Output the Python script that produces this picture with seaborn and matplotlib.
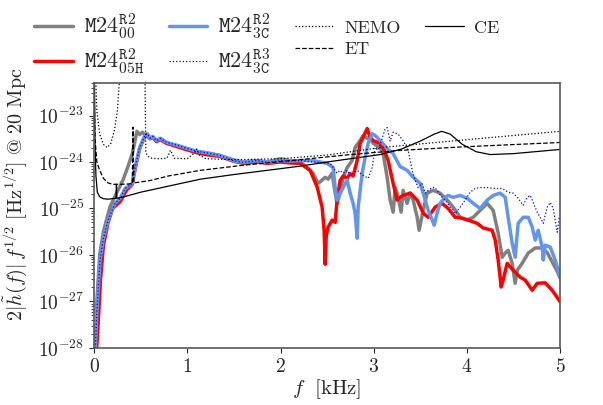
import numpy as np
import seaborn as sns
import matplotlib.pyplot as plt

# frequencies in kHz, amplitudes as log10 of 2|h(f)| f^1/2 at 20 Mpc
f_00 = [0.0, 0.01, 0.03, 0.06, 0.1, 0.14, 0.17, 0.24, 0.31, 0.36, 0.41, 0.44, 0.46, 0.49, 0.52, 0.55,
        0.6, 0.63, 0.67, 0.71, 0.78, 0.89, 1.0, 1.1, 1.2, 1.35, 1.49, 1.6, 1.75, 1.86, 1.95, 2.0, 2.1,
        2.21, 2.285, 2.35, 2.403, 2.446, 2.479, 2.511, 2.554, 2.586, 2.607, 2.639, 2.672, 2.715, 2.768,
        2.8, 2.854, 2.886, 2.929, 2.961, 2.994, 3.069, 3.101, 3.144, 3.176, 3.208, 3.23, 3.262, 3.294,
        3.315, 3.358, 3.391, 3.423, 3.466, 3.487, 3.53, 3.573, 3.637, 3.712, 3.788, 3.852, 3.927, 4.002,
        4.067, 4.142, 4.217, 4.281, 4.335, 4.378, 4.41, 4.442, 4.485, 4.517, 4.539, 4.592, 4.657, 4.732,
        4.807, 4.861, 4.914, 4.968, 5.0]
h_00 = [-29.0, -28.0, -27.0, -26.0, -25.5, -25.2, -24.97, -24.67, -24.39, -24.12, -23.82, -23.54, -23.34,
        -23.41, -23.36, -23.43, -23.49, -23.46, -23.55, -23.5, -23.6, -23.65, -23.72, -23.77, -23.8, -23.86,
        -23.95, -24.0, -23.97, -24.0, -23.95, -23.93, -23.97, -24.0, -24.12, -24.25, -24.46, -24.39, -24.33,
        -24.37, -24.24, -24.67, -24.89, -24.67, -24.33, -24.12, -23.97, -23.69, -23.54, -23.43, -23.49,
        -23.47, -23.6, -23.69, -23.82, -24.33, -24.82, -25.08, -24.55, -24.76, -25.08, -24.61, -24.89,
        -24.67, -24.82, -25.19, -25.47, -25.04, -24.67, -24.61, -24.67, -24.82, -24.97, -25.19, -25.25,
        -25.19, -25.04, -24.89, -25.04, -25.53, -26.05, -25.96, -25.9, -26.18, -26.61, -26.33, -26.18,
        -25.96, -25.85, -25.85, -25.95, -26.15, -26.35, -26.5]

f_05h = [0.0, 0.02, 0.04, 0.07, 0.1, 0.15, 0.2, 0.28, 0.35, 0.41, 0.44, 0.49, 0.55, 0.57, 0.6, 0.63, 0.67,
         0.71, 0.78, 0.89, 1.0, 1.1, 1.2, 1.35, 1.49, 1.6, 1.75, 1.86, 2.0, 2.1, 2.21, 2.318, 2.393, 2.446,
         2.468, 2.479, 2.49, 2.511, 2.554, 2.586, 2.607, 2.639, 2.672, 2.715, 2.747, 2.779, 2.822, 2.854,
         2.886, 2.929, 2.961, 2.994, 3.069, 3.101, 3.155, 3.208, 3.251, 3.283, 3.315, 3.391, 3.466, 3.53,
         3.584, 3.659, 3.734, 3.798, 3.873, 3.948, 4.013, 4.109, 4.174, 4.27, 4.303, 4.335, 4.367, 4.388,
         4.431, 4.496, 4.571, 4.624, 4.7, 4.753, 4.839, 4.914, 5.0]
h_05h = [-29.0, -28.3, -27.6, -26.5, -25.8, -25.3, -25.0, -24.85, -24.6, -24.48, -24.15, -23.7, -23.42,
         -23.4, -23.5, -23.47, -23.56, -23.52, -23.6, -23.67, -23.74, -23.8, -23.84, -23.88, -23.98, -24.03,
         -24.0, -24.03, -24.0, -24.02, -24.03, -24.18, -24.54, -24.97, -25.47, -26.2, -25.6, -25.4, -25.25,
         -25.3, -24.82, -24.4, -24.3, -24.35, -24.25, -24.3, -23.97, -23.6, -23.47, -23.28, -23.47, -23.54,
         -23.6, -23.69, -23.97, -24.46, -24.82, -24.76, -24.72, -24.67, -24.82, -25.1, -25.19, -24.97,
         -24.89, -25.0, -25.19, -25.21, -25.25, -25.32, -25.42, -25.47, -25.68, -26.11, -26.69, -26.54,
         -26.18, -26.33, -26.48, -26.54, -26.76, -26.61, -26.6, -26.76, -27.01]

f_3c = [0.0, 0.01, 0.03, 0.064, 0.097, 0.15, 0.225, 0.28, 0.333, 0.41, 0.44, 0.49, 0.55, 0.57, 0.6, 0.63,
        0.67, 0.71, 0.78, 0.89, 1.0, 1.1, 1.2, 1.35, 1.49, 1.6, 1.75, 1.86, 2.0, 2.1, 2.21, 2.35, 2.5,
        2.564, 2.586, 2.607, 2.639, 2.672, 2.715, 2.747, 2.779, 2.8, 2.822, 2.833, 2.876, 2.908, 2.94,
        2.983, 3.015, 3.069, 3.144, 3.208, 3.283, 3.358, 3.423, 3.498, 3.552, 3.584, 3.627, 3.648, 3.68,
        3.712, 3.766, 3.798, 3.852, 3.927, 4.002, 4.067, 4.142, 4.217, 4.281, 4.356, 4.41, 4.442, 4.485,
        4.517, 4.549, 4.603, 4.657, 4.7, 4.732, 4.764, 4.807, 4.818, 4.839, 4.893, 4.946, 5.0]
h_3c = [-29.0, -28.2, -27.2, -26.11, -25.68, -25.25, -24.89, -24.78, -24.57, -24.46, -24.12, -23.69, -23.41,
        -23.39, -23.49, -23.45, -23.54, -23.49, -23.58, -23.64, -23.71, -23.77, -23.8, -23.86, -23.97,
        -24.01, -23.97, -24.01, -23.97, -23.98, -23.97, -23.97, -24.03, -24.12, -24.55, -24.82, -24.67,
        -24.55, -24.39, -24.67, -24.89, -25.1, -25.64, -24.97, -24.24, -23.9, -23.6, -23.39, -23.43,
        -23.54, -23.71, -23.82, -24.1, -24.18, -24.33, -24.46, -24.82, -25.04, -25.25, -25.36, -25.1,
        -24.89, -24.76, -24.72, -24.76, -24.72, -24.78, -24.89, -25.0, -24.82, -24.72, -24.67, -24.76,
        -25.19, -25.75, -26.05, -25.32, -25.19, -25.19, -25.4, -25.68, -25.47, -25.83, -26.11, -25.79,
        -25.83, -26.11, -26.45]

f_3c_r3 = [0.0, 0.01, 0.03, 0.064, 0.097, 0.15, 0.225, 0.28, 0.333, 0.41, 0.44, 0.49, 0.55, 0.57, 0.6,
           0.63, 0.67, 0.71, 0.78, 0.89, 1.0, 1.1, 1.2, 1.35, 1.49, 1.6, 1.75, 1.86, 2.0, 2.1, 2.21, 2.35,
           2.532, 2.607, 2.639, 2.672, 2.715, 2.747, 2.822, 2.886, 2.94, 2.983, 3.015, 3.047, 3.09, 3.12,
           3.144, 3.176, 3.208, 3.262, 3.315, 3.369, 3.412, 3.444, 3.476, 3.519, 3.552, 3.584, 3.627,
           3.659, 3.691, 3.734, 3.766, 3.82, 3.873, 3.927, 3.981, 4.034, 4.088, 4.142, 4.217, 4.303,
           4.378, 4.442, 4.496, 4.549, 4.603, 4.646, 4.678, 4.71, 4.753, 4.785, 4.818, 4.861, 4.893,
           4.925, 4.968, 4.989, 5.0]
h_3c_r3 = [-29.0, -28.2, -27.2, -26.11, -25.68, -25.25, -24.89, -24.78, -24.57, -24.46, -24.12, -23.69,
           -23.41, -23.39, -23.49, -23.45, -23.54, -23.49, -23.58, -23.64, -23.71, -23.77, -23.8, -23.86,
           -23.97, -24.01, -23.97, -24.01, -23.97, -23.98, -23.97, -24.0, -24.03, -24.24, -24.18, -24.24,
           -24.18, -24.29, -24.18, -24.29, -24.35, -24.12, -23.69, -23.75, -23.5, -23.3, -23.26, -23.55,
           -23.36, -23.4, -23.54, -23.75, -24.18, -24.39, -24.55, -24.46, -24.67, -24.61, -24.55, -24.55,
           -24.65, -24.76, -24.82, -24.97, -25.11, -24.97, -24.82, -24.65, -24.57, -24.55, -24.55, -24.57,
           -24.57, -24.65, -24.67, -24.78, -24.93, -24.76, -24.72, -24.87, -25.08, -25.19, -25.32, -24.97,
           -24.87, -25.0, -25.51, -25.21, -25.25]

f_nemo = [0.005, 0.03, 0.06, 0.1, 0.14, 0.18, 0.22, 0.25, 0.27, 0.3, 0.5, 0.545, 0.555, 0.58, 0.62, 0.7,
          0.78, 0.82, 0.86, 1.0, 1.08, 1.1, 1.13, 1.2, 1.5, 2.0, 2.5, 3.07, 4.0, 5.0]
h_nemo = [-21.5, -22.9, -23.4, -23.62, -23.69, -23.6, -23.3, -22.9, -22.3, -21.8, -21.8, -22.0, -23.8,
          -23.88, -23.92, -23.93, -23.92, -23.75, -23.92, -23.93, -23.8, -23.72, -23.85, -23.93, -23.95,
          -23.93, -23.85, -23.69, -23.52, -23.34]

f_et = [0.003, 0.01, 0.03, 0.06, 0.1, 0.15, 0.2, 0.3, 0.4, 0.41, 0.418, 0.426, 0.6, 0.8, 1.14, 1.6, 2.21,
        2.7, 3.28, 4.0, 5.0]
h_et = [-22.5, -23.5, -24.0, -24.18, -24.35, -24.45, -24.48, -24.48, -24.47, -24.47, -23.25, -24.45,
        -24.4, -24.3, -24.18, -24.07, -23.95, -23.85, -23.75, -23.67, -23.58]

f_ce = [0.003, 0.01, 0.02, 0.035, 0.06, 0.1, 0.15, 0.235, 0.24, 0.245, 0.3, 0.5, 1.14, 1.5, 2.21, 2.5,
        3.07, 3.3, 3.5, 3.65, 3.73, 3.82, 3.95, 4.1, 4.25, 4.5, 5.0]
h_ce = [-22.0, -23.6, -24.3, -24.65, -24.75, -24.79, -24.8, -24.78, -24.48, -24.78, -24.76, -24.65,
        -24.37, -24.27, -24.09, -24.0, -23.84, -23.72, -23.55, -23.4, -23.34, -23.4, -23.62, -23.78,
        -23.84, -23.82, -23.73]

labels = [r'$\mathtt{M24}^{\mathtt{R2}}_{\mathtt{00}}$', r'$\mathtt{M24}^{\mathtt{R2}}_{\mathtt{05H}}$',
          r'$\mathtt{M24}^{\mathtt{R2}}_{\mathtt{3C}}$', r'$\mathtt{M24}^{\mathtt{R3}}_{\mathtt{3C}}$',
          'NEMO', 'ET', 'CE']

sns.set_style('ticks')
plt.rcParams['font.family'] = ['cmr10', 'DejaVu Serif']
plt.rcParams['mathtext.fontset'] = 'cm'
plt.rcParams['axes.unicode_minus'] = False
plt.rcParams['axes.formatter.use_mathtext'] = True

fig = plt.figure(figsize=(6.03, 4.05), dpi=100)
ax = fig.add_axes([0.156, 0.141, 0.773, 0.654])

curves = [
    (f_00, h_00, 'gray', '-', 2.5),
    (f_05h, h_05h, 'red', '-', 2.5),
    (f_3c, h_3c, 'cornflowerblue', '-', 2.5),
    (f_3c_r3, h_3c_r3, 'blue', ':', 0.9),
    (f_nemo, h_nemo, 'black', ':', 0.9),
    (f_et, h_et, 'black', '--', 0.9),
    (f_ce, h_ce, 'black', '-', 0.9),
]
for (f, h, c, ls, lw), lab in zip(curves, labels):
    sns.lineplot(x=f, y=10 ** np.array(h), ax=ax, color=c, linestyle=ls, linewidth=lw,
                 label=lab, sort=False)

ax.set_yscale('log')
ax.set_xlim(0, 5)
ax.set_ylim(1e-28, 5e-23)
ax.set_xticks([0, 1, 2, 3, 4, 5])
ax.tick_params(labelsize=14)
for s in ax.spines.values():
    s.set_color('0.35')
    s.set_linewidth(1.2)
ax.set_xlabel(r'$f\ \ [\mathrm{kHz}]$', fontsize=15, labelpad=1)
ax.set_ylabel(r'$2|\tilde{h}(f)|\,f^{1/2}\ [\mathrm{Hz}^{1/2}]\ \mathrm{@\ 20\ Mpc}$', fontsize=14.5)
ax.yaxis.set_label_coords(-0.14, 0.58)

handles, labs = ax.get_legend_handles_labels()
ax.get_legend().remove()
leg = fig.legend(handles, labs, loc='upper left', bbox_to_anchor=(0.028, 1.015), ncol=4, frameon=False,
                 fontsize=14, handlelength=2.0, handletextpad=0.55, columnspacing=1.25,
                 labelspacing=0.25)
for i, t in enumerate(leg.get_texts()):
    t.set_fontsize(16 if i < 4 else 13)

plt.savefig('out.png', dpi=100)
